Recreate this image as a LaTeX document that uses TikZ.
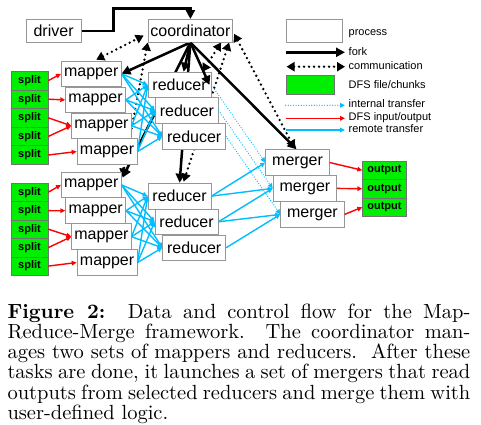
\documentclass[tikz,border=0pt]{standalone}
\usepackage{fontspec}
\newfontfamily\lsans{Liberation Sans}
\usetikzlibrary{arrows.meta,calc}
\definecolor{dfsgreen}{RGB}{0,238,0}
\definecolor{xcyan}{RGB}{0,190,255}
\definecolor{xred}{RGB}{255,0,0}
\definecolor{boxgray}{RGB}{150,150,150}
\newcommand\procfont{\lsans\fontsize{16}{16}\selectfont}
\newcommand\lblfont{\lsans\fontsize{11}{11}\selectfont}
\newcommand\dfsfont{\lsans\bfseries\fontsize{11}{11}\selectfont}
\newcommand\capline[1]{\noindent\makebox[228pt][s]{#1}\par}
\pgfdeclarelayer{back}
\pgfdeclarelayer{bg}
\pgfsetlayers{back,bg,main}
\tikzset{
  proc/.style={draw=boxgray, fill=white, line width=0.8pt, inner sep=0pt, anchor=north west, font=\procfont},
  dfs/.style={draw=black!55, fill=dfsgreen, line width=0.6pt, inner sep=0pt, anchor=north west, font=\dfsfont},
  fork/.style={line width=2.5pt, -{Triangle[length=9pt,width=9pt]}},
  comm/.style={line width=2.6pt, dash pattern=on 0pt off 5pt, line cap=round,
     {Triangle[length=8pt,width=9pt]}-{Triangle[length=8pt,width=9pt]}},
  remote/.style={draw=xcyan, line width=1.4pt, -{Triangle[length=5pt,width=4.5pt]}},
  internal/.style={draw=xcyan, line width=1.3pt, dash pattern=on 0pt off 2.6pt, line cap=round,
     -{Triangle[length=5pt,width=4.5pt]}},
  dfsio/.style={draw=xred, line width=1.4pt, -{Triangle[length=5pt,width=4.5pt]}},
  lbl/.style={anchor=west, inner sep=0pt, font=\lblfont},
}
\begin{document}
\begin{tikzpicture}[x=1pt,y=-1pt]
\useasboundingbox (0,0) rectangle (481,424);
\begin{pgfonlayer}{back}
\fill[white] (0,0) rectangle (481,424);
\end{pgfonlayer}

% ---------- process boxes ----------
\node[proc, minimum width=55pt, minimum height=22.7pt] (driver) at (25.7,19) {driver};
\node[proc, minimum width=84.6pt, minimum height=22.7pt] (coord) at (147.7,19) {coordinator};

\node[proc, minimum width=59.7pt, minimum height=25.4pt] (m1) at (61,60.7) {mapper};
\node[proc, minimum width=59.7pt, minimum height=25.6pt] (m2) at (65.3,86.7) {mapper};
\node[proc, minimum width=59.4pt, minimum height=25.4pt] (m3) at (71.3,112.7) {mapper};
\node[proc, minimum width=60pt, minimum height=25.7pt] (m4) at (76.7,138.3) {mapper};

\node[proc, minimum width=59.7pt, minimum height=25.6pt] (m5) at (61,171.7) {mapper};
\node[proc, minimum width=60pt, minimum height=26pt] (m6) at (65.3,197.3) {mapper};
\node[proc, minimum width=59.4pt, minimum height=26pt] (m7) at (71.3,223.3) {mapper};
\node[proc, minimum width=60pt, minimum height=25.7pt] (m8) at (76.7,249.3) {mapper};

\node[proc, minimum width=63pt, minimum height=25.6pt] (r1) at (147.7,71.7) {reducer};
\node[proc, minimum width=63pt, minimum height=26pt] (r2) at (155,97.3) {reducer};
\node[proc, minimum width=63pt, minimum height=25.7pt] (r3) at (162.3,123.3) {reducer};

\node[proc, minimum width=63pt, minimum height=26pt] (r4) at (147.7,182.7) {reducer};
\node[proc, minimum width=63pt, minimum height=25.3pt] (r5) at (154.7,208.7) {reducer};
\node[proc, minimum width=63pt, minimum height=25.3pt] (r6) at (162.3,234.7) {reducer};

\node[proc, minimum width=63.7pt, minimum height=25.7pt] (g1) at (265.3,149.3) {merger};
\node[proc, minimum width=63.6pt, minimum height=26pt] (g2) at (272.7,175) {merger};
\node[proc, minimum width=63.4pt, minimum height=26pt] (g3) at (280.3,201) {merger};

% ---------- DFS chunks ----------
\node[dfs, minimum width=37pt, minimum height=18.6pt] (s1) at (10.7,71) {split};
\node[dfs, minimum width=37pt, minimum height=18.6pt] (s2) at (10.7,89.6) {split};
\node[dfs, minimum width=37pt, minimum height=18.6pt] (s3) at (10.7,108.2) {split};
\node[dfs, minimum width=37pt, minimum height=18.6pt] (s4) at (10.7,126.8) {split};
\node[dfs, minimum width=37pt, minimum height=18.6pt] (s5) at (10.7,145.4) {split};

\node[dfs, minimum width=37pt, minimum height=18.46pt] (t1) at (10.7,182.7) {split};
\node[dfs, minimum width=37pt, minimum height=18.46pt] (t2) at (10.7,201.16) {split};
\node[dfs, minimum width=37pt, minimum height=18.46pt] (t3) at (10.7,219.62) {split};
\node[dfs, minimum width=37pt, minimum height=18.46pt] (t4) at (10.7,238.08) {split};
\node[dfs, minimum width=37pt, minimum height=18.46pt] (t5) at (10.7,256.54) {split};

\node[dfs, minimum width=43.7pt, minimum height=18.5pt] (o1) at (362.3,160.7) {output};
\node[dfs, minimum width=43.7pt, minimum height=18.5pt] (o2) at (362.3,179.2) {output};
\node[dfs, minimum width=43.7pt, minimum height=18.5pt] (o3) at (362.3,197.7) {output};

% ---------- control flow (behind the boxes) ----------
\coordinate (dk) at (113.3,8.3);
\begin{pgfonlayer}{bg}
  \draw[fork] (driver.east) -| (dk) -| (coord.north);
  \draw[fork] (coord.south) -- (m1.east);
  \draw[fork] (coord.south) -- ($(m5.north east)+(1,6)$);
  \draw[fork] (coord.south) -- (r4.north);
  \draw[fork] (coord.south) -- ($(r1.north)+(4,0)$);
  \draw[fork] (coord.south) -- ($(g1.north)+(-1,0)$);
  \draw[comm] ($(m1.north)+(5,-1)$) -- ($(coord.south west)+(-4,-7)$);
  \draw[comm] (coord.south west) -- ($(m5.north east)+(1,5)$);
  \draw[comm] ($(coord.south east)+(-12,0)$) -- ($(r1.north east)+(-9,0)$);
  \draw[comm] ($(coord.south east)+(-4,0)$) -- ($(r4.north)+(4,-1)$);
  \draw[comm] ($(coord.east)+(1,3)$) -- ($(g1.north)+(-3,-1)$);
\end{pgfonlayer}
\draw[fork] (coord.south) -- ($(r1.east)+(-2,0)$);

% ---------- DFS input / output ----------
\draw[dfsio] (s1.east) -- (m1.west);
\draw[dfsio] (s2.east) -- (m2.west);
\draw[dfsio] (s3.east) -- (m3.west);
\draw[dfsio] (s4.east) -- (m3.west);
\draw[dfsio] (s5.east) -- (m4.west);
\draw[dfsio] (t1.east) -- (m5.west);
\draw[dfsio] (t2.east) -- (m6.west);
\draw[dfsio] (t3.east) -- (m7.west);
\draw[dfsio] (t4.east) -- (m7.west);
\draw[dfsio] (t5.east) -- (m8.west);
\draw[dfsio] (g1.east) -- (o1.west);
\draw[dfsio] (g2.east) -- (o2.west);
\draw[dfsio] (g3.east) -- (o3.west);

% ---------- remote transfer (shuffle) ----------
\foreach \m in {m1,m2,m3,m4}{
  \foreach \r in {r1,r2,r3}{
    \draw[remote] (\m.east) -- (\r.west);
  }
}
\foreach \m in {m5,m6,m7,m8}{
  \foreach \r in {r4,r5,r6}{
    \draw[remote] (\m.east) -- (\r.west);
  }
}
\draw[remote] (r4.east) -- (g1.west);
\draw[remote] (r4.east) -- (g2.west);
\draw[remote] (r5.east) -- (g2.west);
\draw[remote] (r5.east) -- (g3.west);
\draw[remote] (r6.east) -- (g3.west);

% ---------- internal transfer ----------
\draw[internal] (r1.east) -- (g1.west);
\draw[internal] (r2.east) -- (g2.west);
\draw[internal] (r3.east) -- (g3.west);

% ---------- legend ----------
\node[proc, minimum width=56pt, minimum height=22.7pt] (lproc) at (285.7,19) {};
\node[lbl] (tproc) at (348.5,33.3) {process};
\coordinate (lfA) at (285.7,52.3);
\coordinate (lfB) at (345,52.3);
\draw[fork] (lfA) -- (lfB);
\node[lbl] (tfork) at (348.5,52) {fork};
\coordinate (lcA) at (286.5,66.7);
\coordinate (lcB) at (345,66.7);
\draw[comm] (lcA) -- (lcB);
\node[lbl] (tcomm) at (348.5,66) {communication};
\node[dfs, minimum width=48.6pt, minimum height=19pt] (ldfs) at (285.7,75) {};
\node[lbl] (tdfs) at (348.5,84.3) {DFS file/chunks};
\coordinate (liA) at (285.7,105.3);
\coordinate (liB) at (345,105.3);
\draw[internal] (liA) -- (liB);
\node[lbl] (tint) at (348.5,104) {internal transfer};
\coordinate (ldA) at (285.7,118.3);
\coordinate (ldB) at (345,118.3);
\draw[dfsio] (ldA) -- (ldB);
\node[lbl] (tio) at (348.5,117.5) {DFS input/output};
\coordinate (lrA) at (285.7,130);
\coordinate (lrB) at (345,130);
\draw[remote] (lrA) -- (lrB);
\node[lbl] (trem) at (348.5,129) {remote transfer};

% ---------- caption ----------
\node[anchor=base west, inner sep=0pt] (cap) at (7.3,318) {\scalebox{2.03}{\begin{minipage}[t]{228pt}\fontsize{10.1}{10}\selectfont
\capline{\textbf{Figure 2:}\ \ Data and control flow for the Map-}
\capline{Reduce-Merge framework.\ \ The coordinator man-}
\capline{ages two sets of mappers and reducers.\ \ After these}
\capline{tasks are done, it launches a set of mergers that read}
\capline{outputs from selected reducers and merge them with}
\noindent user-defined logic.\end{minipage}}};
\end{tikzpicture}
\end{document}
